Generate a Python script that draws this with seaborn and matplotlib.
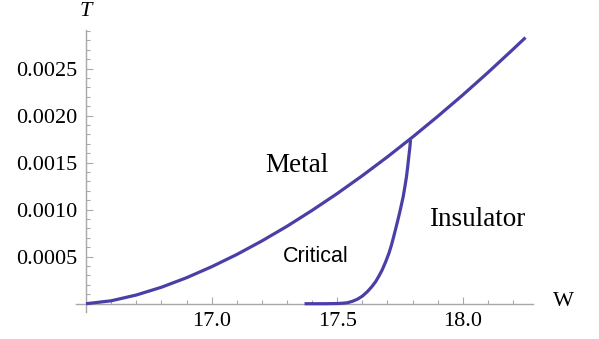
import matplotlib
matplotlib.use("Agg")
import matplotlib.pyplot as plt
import seaborn as sns
import pandas as pd
from matplotlib.ticker import FixedLocator

sns.set_theme(style="white")
plt.rcParams['font.family'] = ['Liberation Serif', 'DejaVu Serif']
plt.rcParams['text.color'] = 'black'
plt.rcParams['xtick.color'] = 'black'
plt.rcParams['ytick.color'] = 'black'

# Metal / critical boundary
metal_w = [16.5, 16.6, 16.7, 16.8, 16.9, 17.0, 17.1, 17.2, 17.3, 17.4,
           17.5, 17.6, 17.7, 17.8, 17.9, 18.0, 18.1, 18.2, 18.25]
metal_t = [0.0, 0.000031, 0.0000925, 0.000175, 0.000276, 0.000393, 0.000523,
           0.000667, 0.000823, 0.000992, 0.001171, 0.001361, 0.001561,
           0.001771, 0.001991, 0.002219, 0.002457, 0.002704, 0.00283]

# Critical / insulator boundary
ins_w = [17.37, 17.45, 17.50, 17.52, 17.54, 17.56, 17.58, 17.60, 17.62,
         17.637, 17.653, 17.666, 17.679, 17.693, 17.706, 17.716, 17.725,
         17.735, 17.745, 17.754, 17.763, 17.770, 17.776, 17.781, 17.785,
         17.789, 17.792]
ins_t = [0.0, 0.0, 0.000002, 0.000005, 0.00001, 0.000025, 0.000047, 0.00008,
         0.000128, 0.000178, 0.000234, 0.000293, 0.000358, 0.000445, 0.000536,
         0.000622, 0.000713, 0.000818, 0.000926, 0.00103, 0.00114, 0.00125,
         0.00135, 0.00146, 0.00156, 0.00165, 0.00174]

metal = pd.DataFrame({"W": metal_w, "T": metal_t})
ins = pd.DataFrame({"W": ins_w, "T": ins_t})

color = "#4a3fa6"
axis_color = "#a8a8a8"

fig = plt.figure(figsize=(5.99, 3.39), dpi=100)
ax = fig.add_axes([0.1269, 0.0805, 0.763, 0.831])

sns.lineplot(data=metal, x="W", y="T", ax=ax, color=color, lw=2.3,
             sort=False, estimator=None, solid_joinstyle="round",
             solid_capstyle="butt")
sns.lineplot(data=ins, x="W", y="T", ax=ax, color=color, lw=2.3,
             sort=False, estimator=None, solid_joinstyle="round",
             solid_capstyle="butt")

ax.set_xlim(16.46, 18.28)
ax.set_ylim(-0.000085, 0.00291)

for s in ["top", "right"]:
    ax.spines[s].set_visible(False)
ax.spines["left"].set_position(("data", 16.5))
ax.spines["bottom"].set_position(("data", 0.0))
for s in ["left", "bottom"]:
    ax.spines[s].set_color(axis_color)
    ax.spines[s].set_linewidth(1.0)
    ax.spines[s].set_zorder(0)

ax.xaxis.set_major_locator(FixedLocator([17.0, 17.5, 18.0]))
ax.xaxis.set_minor_locator(FixedLocator([16.6, 16.7, 16.8, 16.9, 17.1, 17.2, 17.3, 17.4,
                                         17.6, 17.7, 17.8, 17.9, 18.1, 18.2]))
ax.yaxis.set_major_locator(FixedLocator([0.0005, 0.0010, 0.0015, 0.0020, 0.0025]))
ax.yaxis.set_minor_locator(FixedLocator([0.0001 * i for i in range(1, 30) if i % 5 != 0]))
ax.set_xticklabels(["17.0", "17.5", "18.0"])
ax.set_yticklabels(["0.0005", "0.0010", "0.0015", "0.0020", "0.0025"])

ax.tick_params(axis="both", which="major", direction="in", length=5, width=0.8,
               color=axis_color, labelsize=16, labelcolor="black", pad=6)
ax.tick_params(axis="both", which="minor", direction="in", length=3, width=0.8,
               color=axis_color)
ax.tick_params(axis="x", which="both", bottom=True)
ax.tick_params(axis="y", which="both", left=True)
ax.set_xlabel("")
ax.set_ylabel("")

fig.text(563 / 599, 1 - 301 / 339, "W", fontsize=16, ha="center", va="center",
         color="black")
fig.text(86 / 599, 1 - 11 / 339, "T", fontsize=16, style="italic",
         ha="center", va="center", color="black")
fig.text(297 / 599, 1 - 166 / 339, "Metal", fontsize=19.5, ha="center",
         va="center", color="black")
fig.text(477 / 599, 1 - 220 / 339, "Insulator", fontsize=19.5, ha="center",
         va="center", color="black")
fig.text(316 / 599, 1 - 256 / 339, "Critical", fontsize=15.5, ha="center",
         va="center", color="black", family=["Liberation Sans", "DejaVu Sans"])

fig.savefig("out.png", dpi=100)
